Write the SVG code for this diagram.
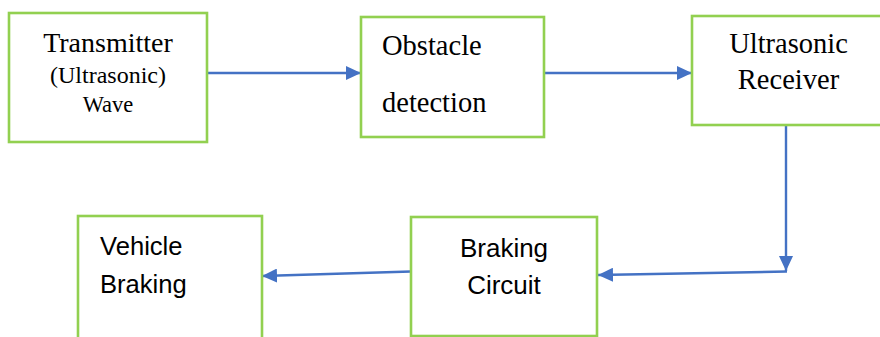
<svg xmlns="http://www.w3.org/2000/svg" width="880" height="337" viewBox="0 0 880 337">
<style>
.box{fill:#fff;stroke:#92D050;stroke-width:2.6}
.conn{fill:none;stroke:#4472C4;stroke-width:2.4}
.serif{font-family:"Liberation Serif","Times New Roman",serif;fill:#000}
.sans{font-family:"Liberation Sans",Arial,sans-serif;fill:#000}
</style>
<defs>
<marker id="ah" markerUnits="userSpaceOnUse" markerWidth="16" markerHeight="14" refX="15" refY="7" orient="auto">
<path d="M0,0 L15,7 L0,14 z" fill="#4472C4"/>
</marker>
</defs>
<rect width="880" height="337" fill="#fff"/>
<g id="connectors">
<line class="conn" x1="207" y1="73" x2="361" y2="73" marker-end="url(#ah)"/>
<line class="conn" x1="544" y1="73" x2="692" y2="73" marker-end="url(#ah)"/>
<line class="conn" x1="786" y1="125" x2="786" y2="271" marker-end="url(#ah)"/>
<line class="conn" x1="787" y1="271.5" x2="598" y2="275" marker-end="url(#ah)"/>
<line class="conn" x1="411" y1="271.5" x2="262" y2="276" marker-end="url(#ah)"/>
</g>
<g id="transmitter">
<rect class="box" x="9" y="13" width="198" height="129"/>
<text class="serif" x="108" y="52" font-size="28" text-anchor="middle">Transmitter</text>
<text class="serif" x="108" y="83" font-size="24" text-anchor="middle">(Ultrasonic)</text>
<text class="serif" x="108" y="112" font-size="22.5" text-anchor="middle">Wave</text>
</g>
<g id="obstacle">
<rect class="box" x="361" y="17" width="183" height="120"/>
<text class="serif" x="382" y="55" font-size="28.5">Obstacle</text>
<text class="serif" x="382" y="112" font-size="28.5">detection</text>
</g>
<g id="receiver">
<rect class="box" x="692" y="16" width="200" height="109"/>
<text class="serif" x="788.5" y="53" font-size="28.5" text-anchor="middle">Ultrasonic</text>
<text class="serif" x="788.5" y="89" font-size="28.5" text-anchor="middle">Receiver</text>
</g>
<g id="braking-circuit">
<rect class="box" x="411" y="217" width="186" height="119"/>
<text class="sans" x="504" y="257" font-size="26" text-anchor="middle">Braking</text>
<text class="sans" x="504" y="294" font-size="26" text-anchor="middle">Circuit</text>
</g>
<g id="vehicle-braking">
<rect class="box" x="78" y="216" width="184" height="130"/>
<text class="sans" x="100" y="255" font-size="25.6">Vehicle</text>
<text class="sans" x="100" y="293" font-size="25.6">Braking</text>
</g>
</svg>
